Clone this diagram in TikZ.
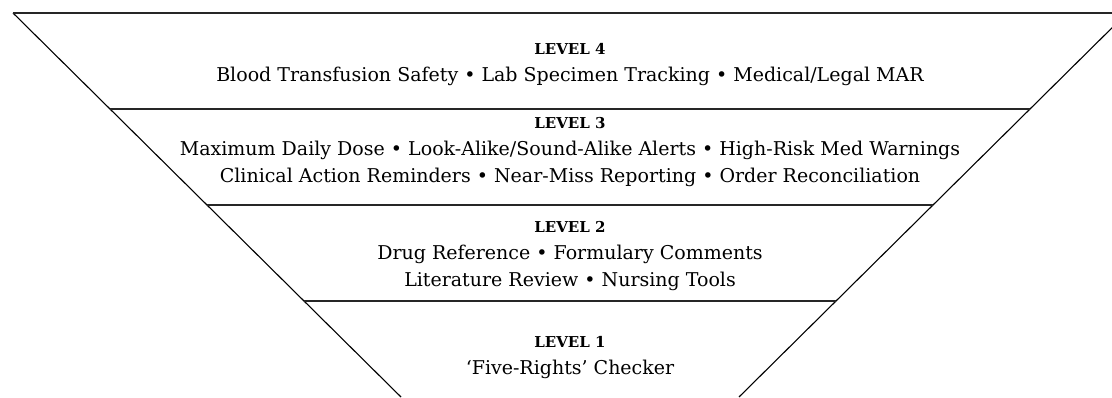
\documentclass[tikz,border=0pt]{standalone}
\usepackage{fontspec}
\setmainfont{DejaVu Serif}
\usetikzlibrary{calc}

\tikzset{
  divider/.style={line width=1.4pt, black!85},
  leveltext/.style={anchor=north, align=center, inner sep=0pt,
    font=\fontsize{19}{27}\selectfont},
}
\newcommand{\levelname}[1]{{\fontsize{15}{27}\selectfont\bfseries LEVEL #1}}

\begin{document}
\begin{tikzpicture}[x=1pt,y=1pt]
\useasboundingbox (0,0) rectangle (1112,397);
\clip (0,0) rectangle (1112,397);
% corners of the funnel
\coordinate (tl) at (13,384);
\coordinate (tr) at (1127,384);
\coordinate (bl) at (401,0);
\coordinate (br) at (739,0);
% outline
\draw[line width=1.1pt] (bl) -- (tl);
\draw[line width=1.1pt] (tr) -- (br);
\draw[divider] (tl) -- (tr);
% dividers between the levels
\foreach \f in {0.25,0.5,0.75}
  \draw[divider] ($(tl)!\f!(bl)$) -- ($(tr)!\f!(br)$);
% level texts
\node[leveltext] (lvl4) at (570,354) {\levelname{4}\\
  Blood Transfusion Safety • Lab Specimen Tracking • Medical/Legal MAR};
\node[leveltext] (lvl3) at (570,280) {\levelname{3}\\
  Maximum Daily Dose • Look-Alike/Sound-Alike Alerts • High-Risk Med Warnings\\
  Clinical Action Reminders • Near-Miss Reporting • Order Reconciliation};
\node[leveltext] (lvl2) at (570,176) {\levelname{2}\\
  Drug Reference • Formulary Comments\\
  Literature Review • Nursing Tools};
\node[leveltext] (lvl1) at (570,61) {\levelname{1}\\
  ‘Five-Rights’ Checker};
\end{tikzpicture}
\end{document}
